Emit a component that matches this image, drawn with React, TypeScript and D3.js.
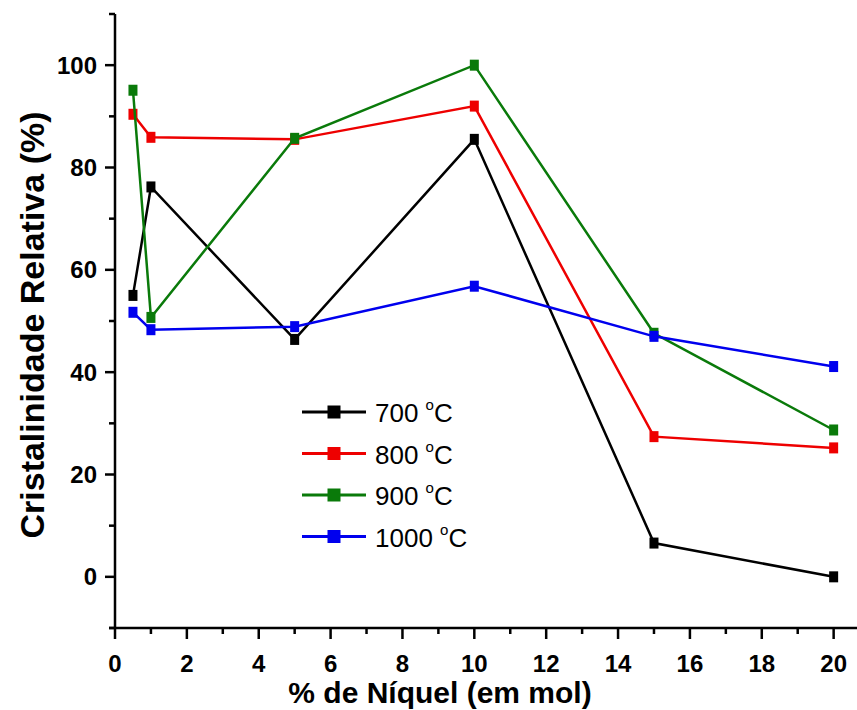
import React from "react";
import * as d3 from "d3";

const xValues = [0.5, 1, 5, 10, 15, 20];
const s700 = [55, 76.2, 46.4, 85.5, 6.6, 0];
const s800 = [90.4, 85.9, 85.5, 92, 27.4, 25.2];
const s900 = [95.1, 50.7, 85.7, 100, 47.6, 28.7];
const s1000 = [51.7, 48.3, 48.9, 56.8, 47, 41.1];
const seriesNames = ["700", "800", "900", "1000"];
const seriesColors = ["#000000", "#ee0000", "#0a7a0a", "#0000ee"];
const xTicks = [0, 2, 4, 6, 8, 10, 12, 14, 16, 18, 20];
const yTicks = [0, 20, 40, 60, 80, 100];

const W = 857;
const H = 710;

export default function App() {
  const x = d3.scaleLinear().domain([0, 20.65]).range([115, 857]);
  const y = d3.scaleLinear().domain([-10, 110]).range([628, 14]);
  const data = [s700, s800, s900, s1000];
  const line = d3
    .line<[number, number]>()
    .x((d) => x(d[0]))
    .y((d) => y(d[1]));
  const xMinor = d3.range(0, 21, 1);
  const yMinor = d3.range(-10, 111, 10);
  const font = "'Liberation Sans', Arial, sans-serif";
  const mw = 9;
  const mh = 11;
  const lm = 13;

  return (
    <svg
      width={W}
      height={H}
      style={{ position: "absolute", left: 0, top: 0, background: "#fff" }}
    >
      <rect x={0} y={0} width={W} height={H} fill="#fff" />
      {/* axes lines */}
      <line x1={x(0)} x2={x(0)} y1={y(110)} y2={y(-10)} stroke="#000" strokeWidth={2.5} />
      <line x1={x(0) - 6} x2={W} y1={y(-10)} y2={y(-10)} stroke="#000" strokeWidth={2.5} />
      {/* x ticks */}
      {xMinor.map((t) => (
        <line
          key={"xm" + t}
          x1={x(t)}
          x2={x(t)}
          y1={y(-10)}
          y2={y(-10) + (t % 2 === 0 ? 11 : 6)}
          stroke="#000"
          strokeWidth={2.5}
        />
      ))}
      {xTicks.map((t) => (
        <text
          key={"xl" + t}
          x={x(t)}
          y={672}
          textAnchor="middle"
          fontFamily={font}
          fontWeight="bold"
          fontSize={24}
        >
          {t}
        </text>
      ))}
      {/* y ticks */}
      {yMinor.map((t) => (
        <line
          key={"ym" + t}
          x1={x(0)}
          x2={x(0) - (t % 20 === 0 ? 10 : 6)}
          y1={y(t)}
          y2={y(t)}
          stroke="#000"
          strokeWidth={2.5}
        />
      ))}
      {yTicks.map((t) => (
        <text
          key={"yl" + t}
          x={97}
          y={y(t) + 8.5}
          textAnchor="end"
          fontFamily={font}
          fontWeight="bold"
          fontSize={24}
        >
          {t}
        </text>
      ))}
      {/* titles */}
      <text
        x={440}
        y={703}
        textAnchor="middle"
        fontFamily={font}
        fontWeight="bold"
        fontSize={30}
      >
        % de Níquel (em mol)
      </text>
      <text
        transform={`translate(44, 325) rotate(-90)`}
        textAnchor="middle"
        fontFamily={font}
        fontWeight="bold"
        fontSize={34}
      >
        Cristalinidade Relativa (%)
      </text>
      {/* series */}
      {data.map((s, i) => {
        const pts = xValues.map((xv, j) => [xv, s[j]] as [number, number]);
        return (
          <g key={"s" + i}>
            <path d={line(pts) || ""} fill="none" stroke={seriesColors[i]} strokeWidth={2.5} />
            {pts.map((p, j) => (
              <rect
                key={j}
                x={x(p[0]) - mw / 2}
                y={y(p[1]) - mh / 2}
                width={mw}
                height={mh}
                fill={seriesColors[i]}
              />
            ))}
          </g>
        );
      })}
      {/* legend */}
      {seriesNames.map((n, i) => {
        const cy = 412 + i * 41.5;
        return (
          <g key={"lg" + i}>
            <line x1={302} x2={366} y1={cy} y2={cy} stroke={seriesColors[i]} strokeWidth={3} />
            <rect x={334 - lm / 2} y={cy - lm / 2} width={lm} height={lm} fill={seriesColors[i]} />
            <text x={375} y={cy + 10} fontFamily={font} fontSize={26}>
              {n + " "}
              <tspan fontSize={15} dy={-12}>o</tspan>
              <tspan dy={12}>C</tspan>
            </text>
          </g>
        );
      })}
    </svg>
  );
}
